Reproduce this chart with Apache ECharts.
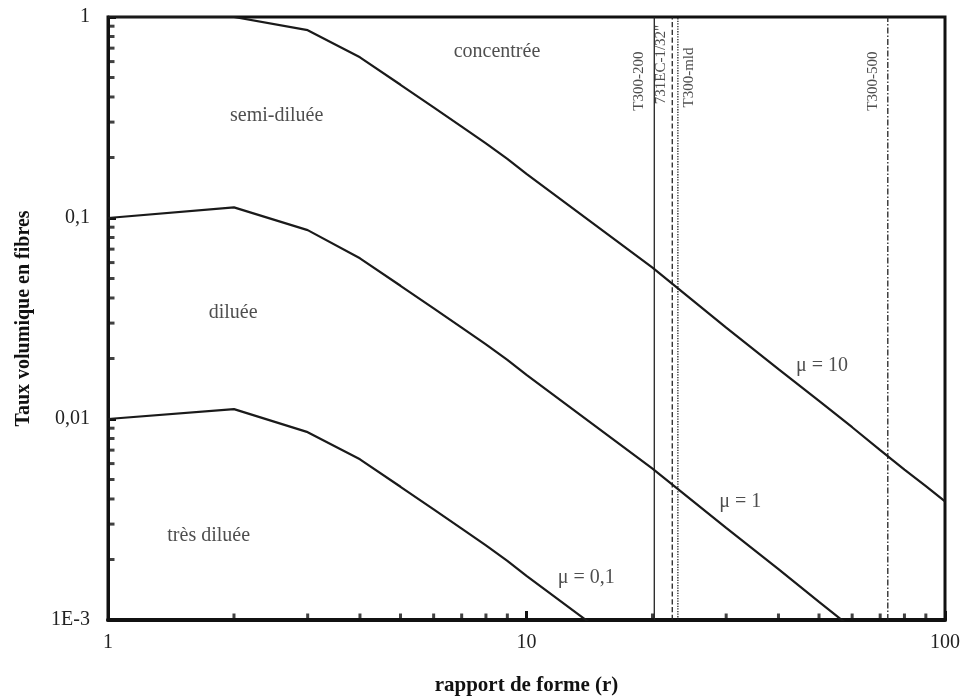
<!DOCTYPE html>
<html><head><meta charset="utf-8">
<script src="https://cdn.jsdelivr.net/npm/echarts@6/dist/echarts.min.js"></script>
<style>html,body{margin:0;padding:0;background:#fff}#c{width:969px;height:699px}</style>
</head><body><div id="c"></div>
<script>
// Aspect ratio (x) values
const ratios = [1,2,3,4,5,6,7,8,9,10,20,30,40,50,60,70,80,90,100];
// Volume fraction curves
const mu10 = [1,1,0.86,0.63,0.46,0.355,0.285,0.235,0.197,0.166,0.0567,0.0285,0.0177,0.0123,0.0091,0.0070,0.0056,0.00464,0.00389];
const mu1  = [0.1,0.113,0.087,0.063,0.046,0.0355,0.0285,0.0235,0.0197,0.0166,0.00567,0.00287,0.00179,0.00123,0.00091];
const mu01 = [0.01,0.0112,0.0086,0.0063,0.0046,0.00355,0.00285,0.00235,0.00197,0.00166,0.000567];
// Vertical reference lines (aspect ratios of fibres)
const refNames = ['T300-200','731EC-1/32"','T300-mld','T300-500'];
const refValues = [20.2, 22.3, 23.0, 73];
const refStyles = ['solid','dashed','dotted',[6,2,1.5,2]];
const refLabelPos = [[18.6,0.48],[21.0,0.58],[24.5,0.50],[67.3,0.48]];
// Tick labels
const xTickLabels = {1:'1',10:'10',100:'100'};
const yTickLabels = {1:'1',0.1:'0,1',0.01:'0,01',0.001:'1E-3'};
const xMinorTicks = [2,3,4,5,6,7,8,9,20,30,40,50,60,70,80,90];
const yMinorTicks = [0.002,0.003,0.004,0.005,0.006,0.007,0.008,0.009,0.02,0.03,0.04,0.05,0.06,0.07,0.08,0.09,0.2,0.3,0.4,0.5,0.6,0.7,0.8,0.9];
// Region and curve annotations
const annotations = [
  ['concentrée',8.5,0.67],['semi-diluée',2.53,0.322],['diluée',1.99,0.0337],['très diluée',1.74,0.00262],
  ['μ = 10',50.8,0.0183],['μ = 1',32.4,0.00386],['μ = 0,1',13.9,0.00162]
];

const FONT = 'Liberation Serif';
const chart = echarts.init(document.getElementById('c'));
const curveStyle = {color:'#1a1a1a', width:2.2};
function zip(xs, ys){ return ys.map((y,i)=>[xs[i],y]); }

const series = [
  {type:'line', data:zip(ratios,mu10), symbol:'none', lineStyle:curveStyle, clip:true, z:5},
  {type:'line', data:zip(ratios,mu1), symbol:'none', lineStyle:curveStyle, clip:true, z:5},
  {type:'line', data:zip(ratios,mu01), symbol:'none', lineStyle:curveStyle, clip:true, z:5}
];
refValues.forEach((v,i)=>{
  series.push({type:'line', data:[[v,0.001],[v,1]], symbol:'none', silent:true,
    lineStyle:{color:'#222', width:1.3, type:refStyles[i]}, z:4});
  series.push({type:'scatter', data:[refLabelPos[i]], symbolSize:0, silent:true,
    label:{show:true, formatter:refNames[i], rotate:90, position:'inside', color:'#222', fontFamily:FONT, fontSize:15}});
});
series.push({type:'scatter', data:annotations.map(a=>({value:[a[1],a[2]], name:a[0]})), symbolSize:0, silent:true,
  label:{show:true, position:'inside', formatter:p=>p.name, color:'#222', fontFamily:FONT, fontSize:20}});
series.push({type:'scatter', data:xMinorTicks.map(v=>[v,0.001]), symbol:'rect', symbolSize:[3,7], symbolOffset:[0,-3], clip:false, silent:true, itemStyle:{color:'#111'}, z:6});
series.push({type:'scatter', data:yMinorTicks.map(v=>[1,v]), symbol:'rect', symbolSize:[7,3], symbolOffset:[3,0], clip:false, silent:true, itemStyle:{color:'#111'}, z:6});

chart.setOption({
  animation:false,
  backgroundColor:'#fff',
  grid:{left:108, right:24, top:17, bottom:79, outerBoundsMode:'none', containLabel:false, show:true, borderColor:'#111', borderWidth:3, backgroundColor:'transparent'},
  xAxis:{type:'log', logBase:10, min:1, max:100,
    name:'rapport de forme (r)', nameLocation:'middle', nameGap:55,
    nameTextStyle:{fontFamily:FONT, fontWeight:'bold', fontSize:21, color:'#111'},
    axisLine:{show:true, lineStyle:{color:'#111', width:4}},
    axisTick:{show:true, inside:true, length:9, lineStyle:{color:'#111', width:3}},
    axisLabel:{margin:13, fontFamily:FONT, fontSize:20, color:'#222', formatter:v=>xTickLabels[Math.round(v)]||''},
    splitLine:{show:false}},
  yAxis:{type:'log', logBase:10, min:0.001, max:1,
    name:'Taux volumique en fibres', nameLocation:'middle', nameGap:74,
    nameTextStyle:{fontFamily:FONT, fontWeight:'bold', fontSize:20, color:'#111'},
    axisLine:{show:true, lineStyle:{color:'#111', width:3}},
    axisTick:{show:true, inside:true, length:8, lineStyle:{color:'#111', width:3}},
    axisLabel:{margin:18, fontFamily:FONT, fontSize:20, color:'#222', showMinLabel:true, showMaxLabel:true,
      formatter:v=>{const k=Object.keys(yTickLabels).find(t=>Math.abs(Math.log10(+t)-Math.log10(v))<1e-6);return k!==undefined?yTickLabels[k]:'';}},
    splitLine:{show:false}},
  series:series
});
</script></body></html>
